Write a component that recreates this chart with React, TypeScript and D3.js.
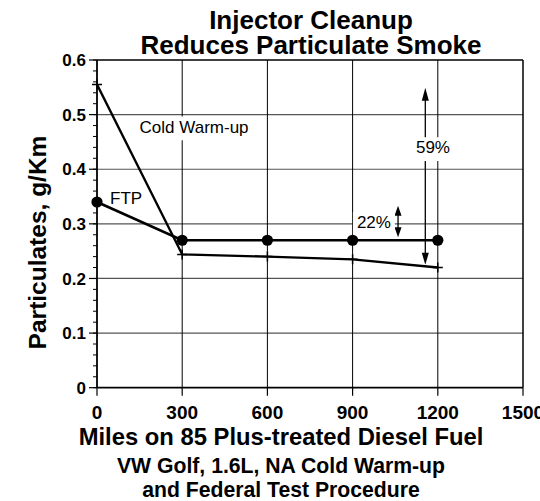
import * as d3 from 'd3';

// Data
const miles = [0, 300, 600, 900, 1200];
const coldWarmUp = [0.555, 0.244, 0.240, 0.235, 0.220];
const ftp = [0.340, 0.270, 0.270, 0.270, 0.270];

const xTicks = [0, 300, 600, 900, 1200, 1500];
const yTicks = [0, 0.1, 0.2, 0.3, 0.4, 0.5, 0.6];
const yMinorTicks = d3.range(0, 0.6001, 0.02);

const titleLines = ['Injector Cleanup', 'Reduces Particulate Smoke'];
const xTitleLines = ['Miles on 85 Plus-treated Diesel Fuel', 'VW Golf, 1.6L, NA Cold Warm-up', 'and Federal Test Procedure'];
const yTitle = 'Particulates, g/Km';

// annotation labels, anchored in data units
const labels = [
  { text: 'Cold Warm-up', m: 150, v: 0.467, anchor: 'start', box: true },
  { text: 'FTP', m: 46, v: 0.336, anchor: 'start', box: false },
  { text: '59%', m: 1183, v: 0.429, anchor: 'middle', box: true },
  { text: '22%', m: 975, v: 0.292, anchor: 'middle', box: true },
];
// reduction arrows: [miles, top value, bottom value]
const arrow59 = [1156, 0.549, 0.225];
const arrow22 = [1060, 0.333, 0.2755];

const W = 540;
const H = 501;
const font = '"Liberation Sans", Arial, Helvetica, sans-serif';
const labelSize = 17;

let ctx: CanvasRenderingContext2D | null = null;
function textWidth(t: string) {
  if (!ctx) ctx = document.createElement('canvas').getContext('2d');
  if (!ctx) return t.length * labelSize * 0.55;
  ctx.font = `${labelSize}px ${font}`;
  return ctx.measureText(t).width;
}

export default function App() {
  document.body.style.margin = '0';

  const x = d3.scaleLinear().domain([0, 1500]).range([97, 523]);
  const y = d3.scaleLinear().domain([0, 0.6]).range([387.7, 60]);

  const line = d3.line<number>().x((d, i) => x(miles[i])).y(d => y(d));

  const arrowHead = (cx: number, tipY: number, dir: number, len: number, hw: number) =>
    `M${cx},${tipY} L${cx - hw},${tipY + dir * len} L${cx + hw},${tipY + dir * len} Z`;

  return (
    <svg width={W} height={H} style={{ display: 'block', background: '#fff' }} fontFamily={font}>
      {/* title */}
      {titleLines.map((t, i) => (
        <text key={t} x={311} y={28.5 + i * 25.5} textAnchor="middle" fontSize={26} fontWeight="bold">{t}</text>
      ))}

      {/* grid */}
      {yTicks.slice(1, -1).map(t => (
        <line key={'gy' + t} x1={x(0)} x2={x(1500)} y1={y(t)} y2={y(t)} stroke="#555" strokeWidth={1.2} />
      ))}
      {xTicks.slice(1, -1).map(t => (
        <line key={'gx' + t} x1={x(t)} x2={x(t)} y1={y(0)} y2={y(0.6)} stroke="#000" strokeWidth={1} />
      ))}

      {/* frame */}
      <line x1={x(0)} x2={x(1500)} y1={y(0.6)} y2={y(0.6)} stroke="#000" strokeWidth={1.5} />
      <line x1={x(1500)} x2={x(1500)} y1={y(0.6)} y2={y(0)} stroke="#000" strokeWidth={1.5} />
      <line x1={x(0)} x2={x(1500)} y1={y(0)} y2={y(0)} stroke="#000" strokeWidth={1.8} />
      <line x1={x(0)} x2={x(0)} y1={y(0.6)} y2={y(0)} stroke="#000" strokeWidth={1.8} />

      {/* y ticks */}
      {yMinorTicks.map(t => (
        <line key={'ym' + t} x1={x(0) - 4} x2={x(0)} y1={y(t)} y2={y(t)} stroke="#000" strokeWidth={1} />
      ))}
      {yTicks.map(t => (
        <g key={'yt' + t}>
          <line x1={x(0) - 8} x2={x(0)} y1={y(t)} y2={y(t)} stroke="#000" strokeWidth={1.2} />
          <text x={86} y={y(t)} dy="0.36em" textAnchor="end" fontSize={17} fontWeight="bold">{t === 0 ? '0' : t.toFixed(1)}</text>
        </g>
      ))}

      {/* x ticks */}
      {xTicks.map(t => (
        <g key={'xt' + t}>
          <line x1={x(t)} x2={x(t)} y1={y(0)} y2={y(0) + 8} stroke="#000" strokeWidth={1.2} />
          <text x={x(t)} y={418.5} textAnchor="middle" fontSize={19} fontWeight="bold">{t}</text>
        </g>
      ))}

      {/* axis titles */}
      <text transform={`translate(46,242.5) rotate(-90)`} textAnchor="middle" fontSize={24.5} fontWeight="bold">{yTitle}</text>
      {xTitleLines.map((t, i) => (
        <text key={t} x={281} y={445 + (i === 0 ? 0 : 27.5 + (i - 1) * 24.5)} textAnchor="middle"
          fontSize={i === 0 ? 23.8 : 21.2} fontWeight="bold">{t}</text>
      ))}

      {/* arrows */}
      <line x1={x(arrow59[0])} x2={x(arrow59[0])} y1={y(arrow59[1]) + 8} y2={y(arrow59[2]) - 8} stroke="#000" strokeWidth={1.3} />
      <path d={arrowHead(x(arrow59[0]), y(arrow59[1]), 1, 13, 3.5)} fill="#000" />
      <path d={arrowHead(x(arrow59[0]), y(arrow59[2]), -1, 12, 3.5)} fill="#000" />
      <line x1={x(arrow22[0])} x2={x(arrow22[0])} y1={y(arrow22[1]) + 6} y2={y(arrow22[2]) - 6} stroke="#000" strokeWidth={1.3} />
      <path d={arrowHead(x(arrow22[0]), y(arrow22[1]), 1, 10, 3.5)} fill="#000" />
      <path d={arrowHead(x(arrow22[0]), y(arrow22[2]), -1, 10, 3.5)} fill="#000" />

      {/* labels with white boxes */}
      {labels.map(l => {
        const w = textWidth(l.text);
        const lx = x(l.m);
        const x0 = l.anchor === 'middle' ? lx - w / 2 : lx;
        return (
          <g key={l.text}>
            {l.box && (
              <rect x={x0 - 4} y={y(l.v) - labelSize * 0.95} width={w + 8} height={labelSize * 1.4} fill="#fff" />
            )}
            <text x={lx} y={y(l.v)} textAnchor={l.anchor} fontSize={labelSize}>{l.text}</text>
          </g>
        );
      })}

      {/* series */}
      <path d={line(ftp) || ''} fill="none" stroke="#000" strokeWidth={2.7} />
      <path d={line(coldWarmUp) || ''} fill="none" stroke="#000" strokeWidth={2.4} />
      {ftp.map((v, i) => (
        <circle key={'c' + i} cx={x(miles[i])} cy={y(v)} r={5.6} fill="#000" />
      ))}
      {coldWarmUp.map((v, i) => (
        <path key={'p' + i} d={`M${x(miles[i]) - 5},${y(v)} H${x(miles[i]) + 5} M${x(miles[i])},${y(v) - 5} V${y(v) + 5}`}
          stroke="#000" strokeWidth={1.5} />
      ))}
    </svg>
  );
}
